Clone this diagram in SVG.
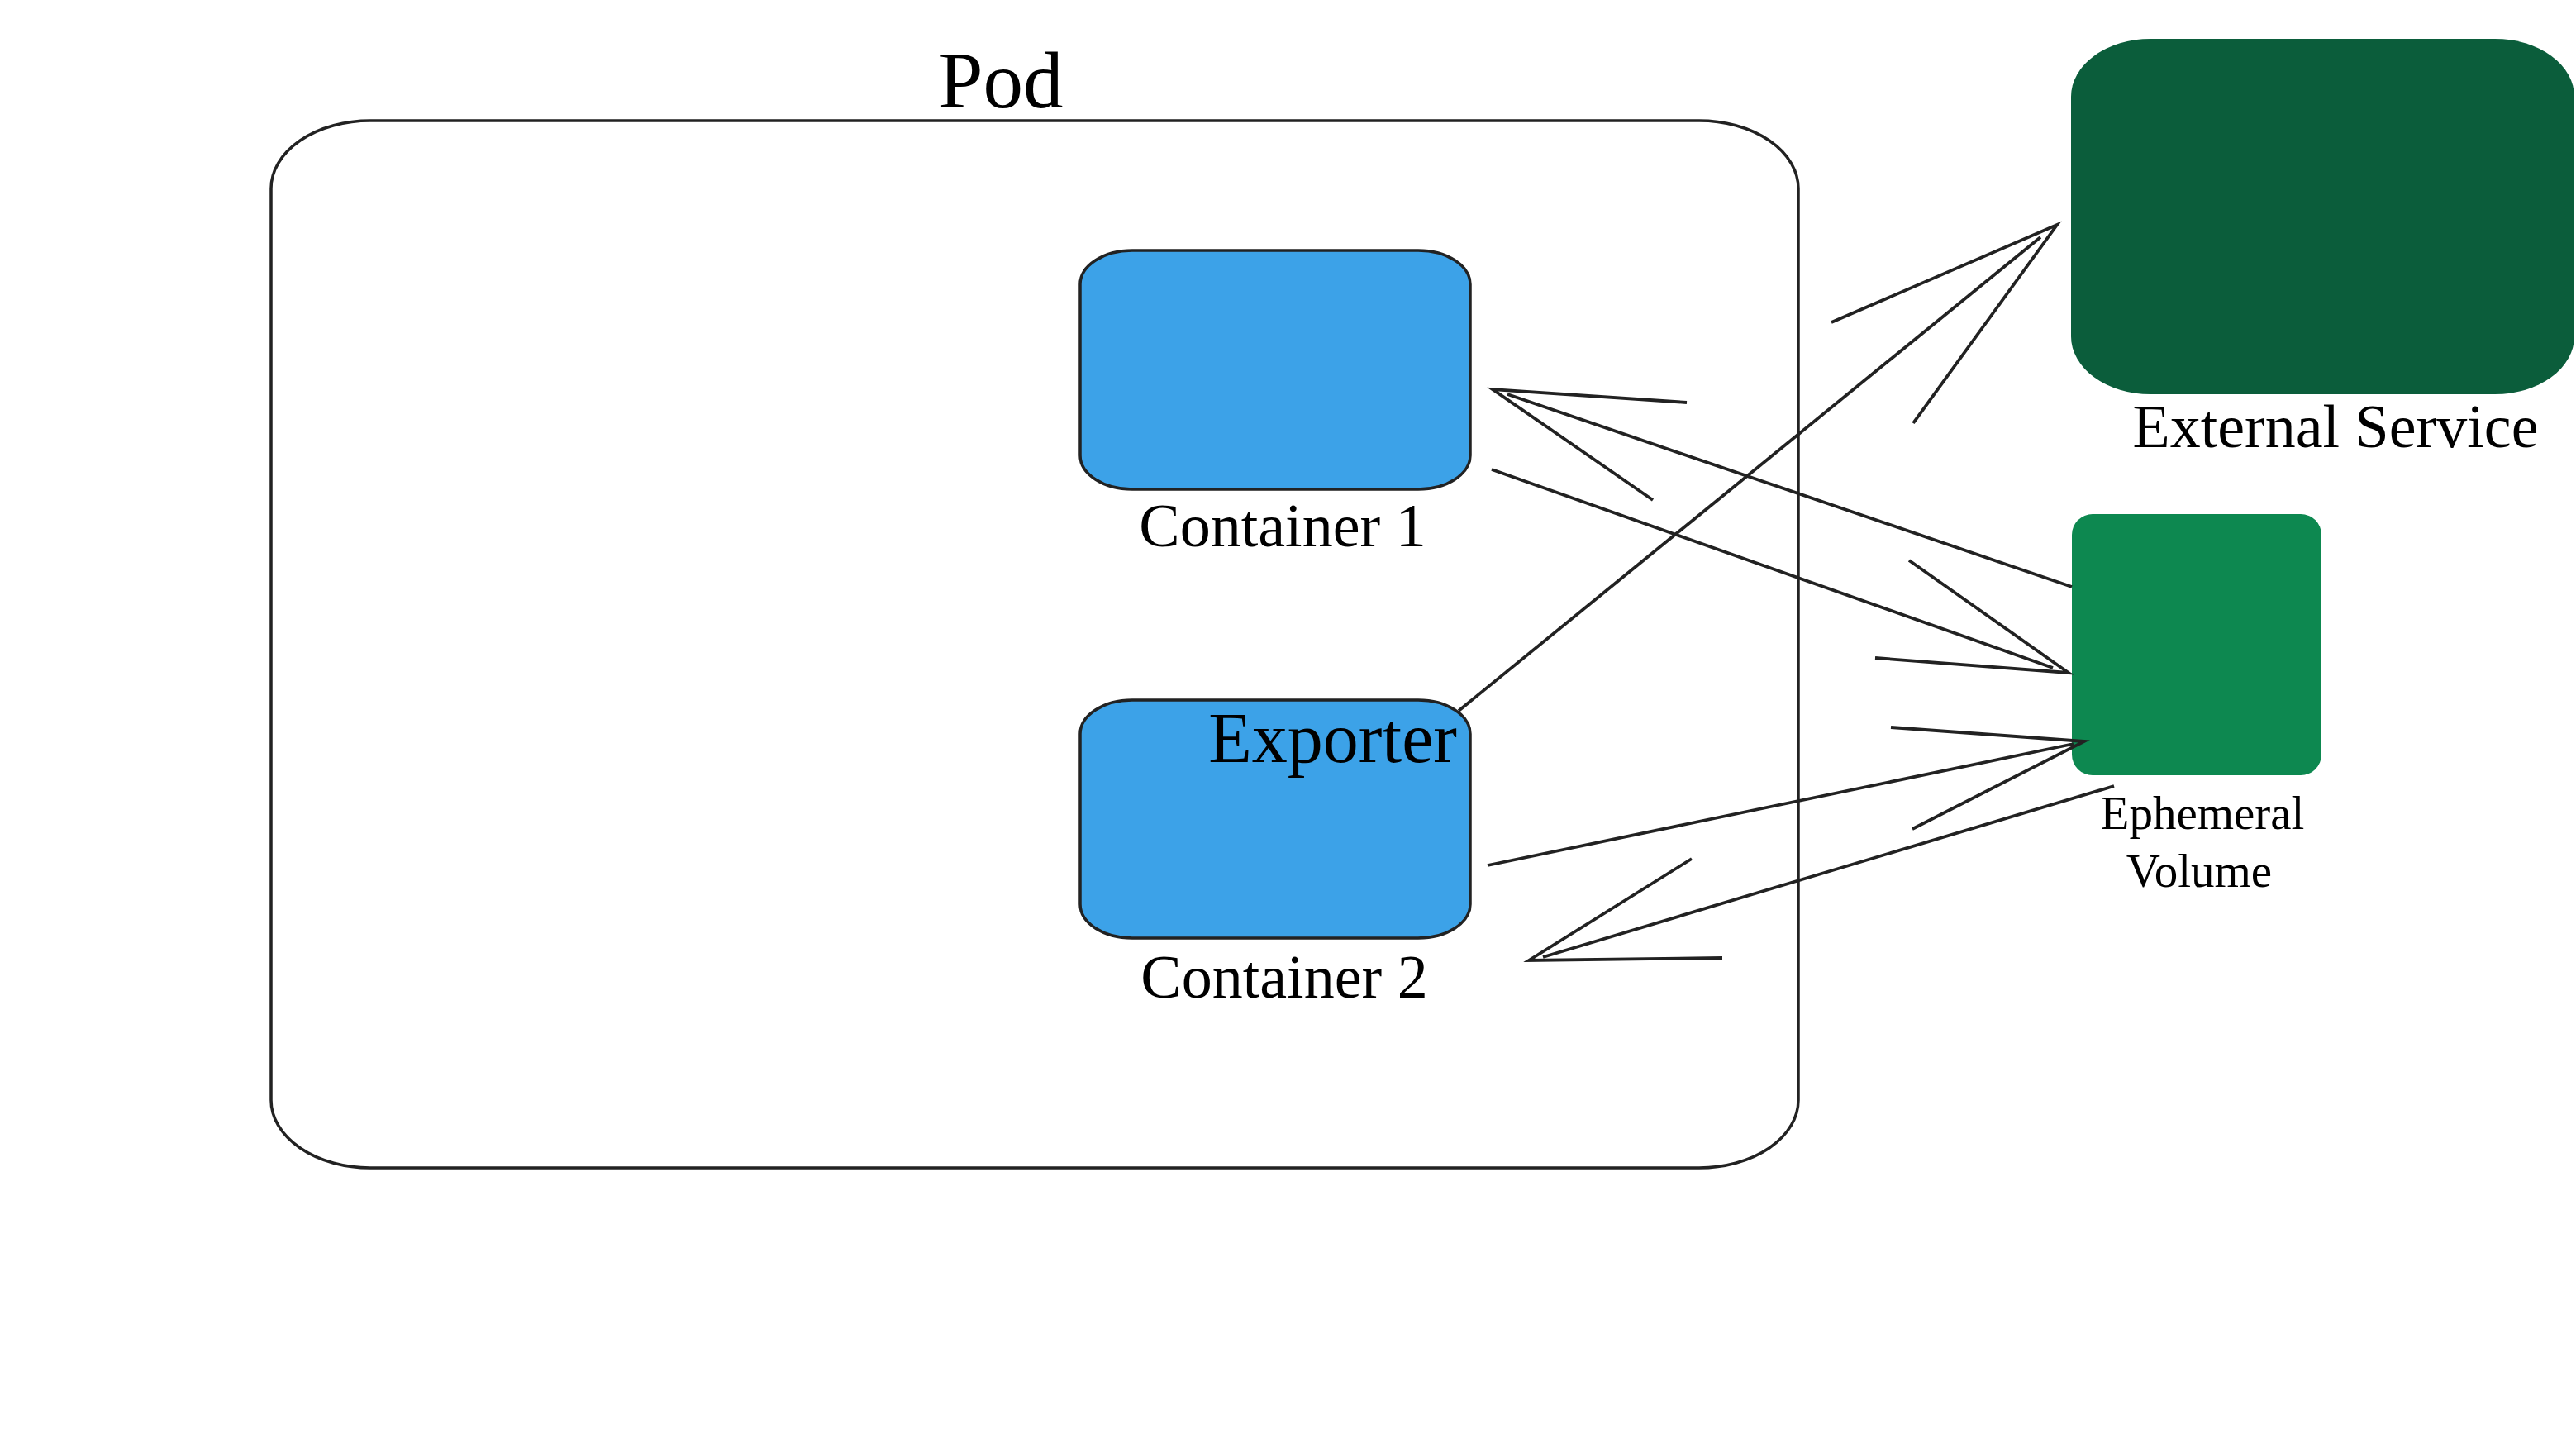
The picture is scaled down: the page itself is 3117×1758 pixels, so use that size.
<svg xmlns="http://www.w3.org/2000/svg" width="3117" height="1758" viewBox="0 0 3117 1758">
  <style>
    .lbl { font-family: "Liberation Serif", "Times New Roman", serif; fill: #000; }
    .box { stroke: #222; stroke-width: 3.5; }
    .edge { stroke: #222; stroke-width: 3.8; fill: none; stroke-linecap: butt; }
  </style>
  <rect width="3117" height="1758" fill="#ffffff"/>

  <g id="pod">
    <rect x="328" y="146" width="1848" height="1267" rx="120" ry="82" fill="#ffffff" class="box"/>
    <text class="lbl" x="1211" y="130" font-size="97" text-anchor="middle">Pod</text>
  </g>

  <g id="container1">
    <rect x="1307" y="303" width="472" height="289" rx="63" ry="41" fill="#3ca2e8" class="box"/>
    <text class="lbl" x="1552" y="661" font-size="74" text-anchor="middle">Container 1</text>
  </g>

  <g id="container2">
    <rect x="1307" y="847" width="472" height="288" rx="63" ry="41" fill="#3ca2e8" class="box"/>
    <text class="lbl" x="1554" y="1207" font-size="74" text-anchor="middle">Container 2</text>
    <text class="lbl" x="1763" y="922" font-size="86" text-anchor="end">Exporter</text>
  </g>

  <g id="external-service">
    <rect x="2506" y="47" width="609" height="430" rx="96" ry="70" fill="#0b5d3b"/>
    <text class="lbl" x="2826" y="541" font-size="74" text-anchor="middle">External Service</text>
  </g>

  <g id="ephemeral-volume">
    <rect x="2507" y="622" width="302" height="316" rx="25" ry="25" fill="#0d8850"/>
    <text class="lbl" x="2665" y="1003" font-size="57" text-anchor="middle">Ephemeral</text>
    <text class="lbl" x="2661" y="1073" font-size="57" text-anchor="middle">Volume</text>
  </g>

  <g id="connectors">
    <!-- Exporter -> External Service -->
    <line class="edge" x1="1765" y1="860" x2="2469" y2="287"/>
    <polyline class="edge" points="2216,390 2489,272 2315,512"/>

    <!-- Ephemeral Volume -> Container 1 -->
    <line class="edge" x1="2507" y1="710" x2="1824" y2="477"/>
    <polyline class="edge" points="2041,487 1806,471 2000,605"/>

    <!-- Container 1 -> Ephemeral Volume -->
    <line class="edge" x1="1805" y1="568" x2="2484" y2="808"/>
    <polyline class="edge" points="2310,678 2503,814 2269,796"/>

    <!-- Container 2 -> Ephemeral Volume -->
    <line class="edge" x1="1800" y1="1047" x2="2509" y2="900"/>
    <polyline class="edge" points="2288,880 2522,897 2314,1003"/>

    <!-- Ephemeral Volume -> Container 2 -->
    <line class="edge" x1="2558" y1="951" x2="1867" y2="1158"/>
    <polyline class="edge" points="2047,1039 1850,1162 2084,1159"/>
  </g>
</svg>
